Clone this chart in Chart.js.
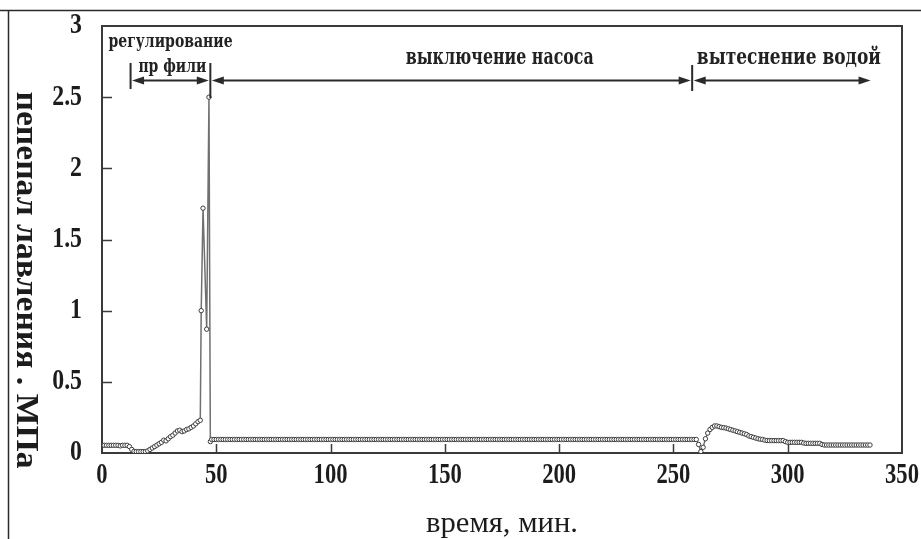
<!DOCTYPE html>
<html>
<head>
<meta charset="utf-8">
<title>перепад давления</title>
<script src="https://cdn.jsdelivr.net/npm/chart.js@4.4.1/dist/chart.umd.min.js"></script>
<style>
  html, body { margin: 0; padding: 0; background: #fff; }
  #wrap { position: relative; width: 921px; height: 539px; }
</style>
</head>
<body>
<div id="wrap"><canvas id="dpChart" width="921" height="539"></canvas></div>
<script>
// time, min
const minutes = [
  0, 1, 2, 3, 4, 5, 6, 7, 8, 9, 10, 11, 12, 13, 14, 15, 16, 17, 18, 19,
  20, 21, 22, 23, 24, 25, 26, 27, 28, 29, 30, 31, 32, 33, 34, 35, 36, 37, 38, 39,
  40, 41, 42, 43, 43.4, 44.2, 45.8, 46.8, 47.4,
  48, 49, 50, 51, 52, 53, 54, 55, 56, 57, 58, 59, 60, 61, 62, 63, 64, 65, 66, 67,
  68, 69, 70, 71, 72, 73, 74, 75, 76, 77, 78, 79, 80, 81, 82, 83, 84, 85, 86, 87,
  88, 89, 90, 91, 92, 93, 94, 95, 96, 97, 98, 99, 100, 101, 102, 103, 104, 105, 106, 107,
  108, 109, 110, 111, 112, 113, 114, 115, 116, 117, 118, 119, 120, 121, 122, 123, 124, 125, 126, 127,
  128, 129, 130, 131, 132, 133, 134, 135, 136, 137, 138, 139, 140, 141, 142, 143, 144, 145, 146, 147,
  148, 149, 150, 151, 152, 153, 154, 155, 156, 157, 158, 159, 160, 161, 162, 163, 164, 165, 166, 167,
  168, 169, 170, 171, 172, 173, 174, 175, 176, 177, 178, 179, 180, 181, 182, 183, 184, 185, 186, 187,
  188, 189, 190, 191, 192, 193, 194, 195, 196, 197, 198, 199, 200, 201, 202, 203, 204, 205, 206, 207,
  208, 209, 210, 211, 212, 213, 214, 215, 216, 217, 218, 219, 220, 221, 222, 223, 224, 225, 226, 227,
  228, 229, 230, 231, 232, 233, 234, 235, 236, 237, 238, 239, 240, 241, 242, 243, 244, 245, 246, 247,
  248, 249, 250, 251, 252, 253, 254, 255, 256, 257, 258, 259, 260,
  261, 262, 263, 264, 265, 266, 267, 268, 269, 270, 271, 272, 273, 274, 275, 276, 277, 278, 279, 280,
  281, 282, 283, 284, 285, 286, 287, 288, 289, 290, 291, 292, 293, 294, 295, 296, 297, 298, 299, 300,
  301, 302, 303, 304, 305, 306, 307, 308, 309, 310, 311, 312, 313, 314, 315, 316, 317, 318, 319, 320,
  321, 322, 323, 324, 325, 326, 327, 328, 329, 330, 331, 332, 333, 334, 335, 336
];

// pressure drop, MPa
const dropMPa = [
  0.054, 0.054, 0.054, 0.054, 0.054, 0.054, 0.054, 0.054, 0.05, 0.054, 0.054, 0.054, 0.045, 0.025, 0.012, 0.01, 0.01, 0.01, 0.01, 0.01,
  0.015, 0.025, 0.035, 0.045, 0.055, 0.065, 0.075, 0.09, 0.085, 0.1, 0.115, 0.125, 0.14, 0.155, 0.16, 0.15, 0.155, 0.165, 0.17, 0.18,
  0.19, 0.205, 0.22, 0.23, 1.0, 1.72, 0.87, 2.5, 0.08,
  0.095, 0.095, 0.095, 0.095, 0.095, 0.095, 0.095, 0.095, 0.095, 0.095, 0.095, 0.095, 0.095, 0.095, 0.095, 0.095, 0.095, 0.095, 0.095, 0.095,
  0.095, 0.095, 0.095, 0.095, 0.095, 0.095, 0.095, 0.095, 0.095, 0.095, 0.095, 0.095, 0.095, 0.095, 0.095, 0.095, 0.095, 0.095, 0.095, 0.095,
  0.095, 0.095, 0.095, 0.095, 0.095, 0.095, 0.095, 0.095, 0.095, 0.095, 0.095, 0.095, 0.095, 0.095, 0.095, 0.095, 0.095, 0.095, 0.095, 0.095,
  0.095, 0.095, 0.095, 0.095, 0.095, 0.095, 0.095, 0.095, 0.095, 0.095, 0.095, 0.095, 0.095, 0.095, 0.095, 0.095, 0.095, 0.095, 0.095, 0.095,
  0.095, 0.095, 0.095, 0.095, 0.095, 0.095, 0.095, 0.095, 0.095, 0.095, 0.095, 0.095, 0.095, 0.095, 0.095, 0.095, 0.095, 0.095, 0.095, 0.095,
  0.095, 0.095, 0.095, 0.095, 0.095, 0.095, 0.095, 0.095, 0.095, 0.095, 0.095, 0.095, 0.095, 0.095, 0.095, 0.095, 0.095, 0.095, 0.095, 0.095,
  0.095, 0.095, 0.095, 0.095, 0.095, 0.095, 0.095, 0.095, 0.095, 0.095, 0.095, 0.095, 0.095, 0.095, 0.095, 0.095, 0.095, 0.095, 0.095, 0.095,
  0.095, 0.095, 0.095, 0.095, 0.095, 0.095, 0.095, 0.095, 0.095, 0.095, 0.095, 0.095, 0.095, 0.095, 0.095, 0.095, 0.095, 0.095, 0.095, 0.095,
  0.095, 0.095, 0.095, 0.095, 0.095, 0.095, 0.095, 0.095, 0.095, 0.095, 0.095, 0.095, 0.095, 0.095, 0.095, 0.095, 0.095, 0.095, 0.095, 0.095,
  0.095, 0.095, 0.095, 0.095, 0.095, 0.095, 0.095, 0.095, 0.095, 0.095, 0.095, 0.095, 0.095, 0.095, 0.095, 0.095, 0.095, 0.095, 0.095, 0.095,
  0.095, 0.095, 0.095, 0.095, 0.095, 0.095, 0.095, 0.095, 0.095, 0.095, 0.095, 0.095, 0.095,
  0.06, 0.01, 0.04, 0.1, 0.14, 0.165, 0.18, 0.19, 0.19, 0.185, 0.18, 0.178, 0.175, 0.17, 0.165, 0.16, 0.155, 0.15, 0.145, 0.14,
  0.135, 0.13, 0.12, 0.115, 0.11, 0.105, 0.1, 0.097, 0.095, 0.09, 0.088, 0.087, 0.087, 0.087, 0.087, 0.087, 0.087, 0.087, 0.08, 0.075,
  0.075, 0.075, 0.075, 0.075, 0.075, 0.075, 0.07, 0.068, 0.068, 0.068, 0.068, 0.068, 0.068, 0.068, 0.06, 0.056, 0.056, 0.056, 0.056, 0.056,
  0.056, 0.056, 0.056, 0.056, 0.056, 0.056, 0.056, 0.056, 0.056, 0.056, 0.056, 0.056, 0.056, 0.056, 0.056, 0.056
];

const xTicks = [0, 50, 100, 150, 200, 250, 300, 350];
const yTicks = [0, 0.5, 1, 1.5, 2, 2.5, 3];
const yTickLabels = ['0', '0.5', '1', '1.5', '2', '2.5', '3'];

// stages of the test, minutes at the borders
const stageEdges = [12.5, 47.4, 258.2, 336.9];
const stageNames = [['регулирование', 'пр фили'], ['выключение насоса'], ['вытеснение водой']];

const xTitle = 'время, мин.';
const yTitle = 'пепепал лавления . МПа';

// draw text squeezed/stretched to a given width
function fitText(ctx, text, cx, base, width, font) {
  ctx.save();
  ctx.font = font;
  const w = ctx.measureText(text).width;
  ctx.translate(cx, base);
  ctx.scale(width / w, 1);
  ctx.textAlign = 'center';
  ctx.textBaseline = 'alphabetic';
  ctx.fillText(text, 0, 0);
  ctx.restore();
}

// narrow tick label, sx < 1 squeezes it horizontally
function narrowText(ctx, text, x, y, sx, align) {
  ctx.save();
  ctx.translate(x, y);
  ctx.scale(sx, 1);
  ctx.textAlign = align;
  ctx.textBaseline = 'middle';
  ctx.fillText(text, 0, 0);
  ctx.restore();
}

function head(ctx, tip, y, dir) {
  ctx.beginPath();
  ctx.moveTo(tip, y);
  ctx.lineTo(tip - dir * 12, y - 4);
  ctx.lineTo(tip - dir * 12, y + 4);
  ctx.closePath();
  ctx.fill();
}

const frame = {
  id: 'frame',
  beforeDatasetsDraw(chart) {
    const { ctx, chartArea: a, scales: { x, y } } = chart;
    ctx.save();
    // outer frame of the figure
    ctx.strokeStyle = '#2a2a2a';
    ctx.lineWidth = 1.5;
    ctx.beginPath();
    ctx.moveTo(0, 10.5); ctx.lineTo(921, 10.5);
    ctx.moveTo(8.5, 10.5); ctx.lineTo(8.5, 539);
    ctx.stroke();

    // plot box
    ctx.strokeStyle = '#3a3a3a';
    ctx.lineWidth = 2;
    ctx.strokeRect(a.left, a.top, a.right - a.left, a.bottom - a.top);

    // short inner ticks
    ctx.lineWidth = 1.5;
    ctx.beginPath();
    xTicks.slice(1, -1).forEach(v => {
      const px = Math.round(x.getPixelForValue(v)) + 0.5;
      ctx.moveTo(px, a.bottom); ctx.lineTo(px, a.bottom - 9);
    });
    yTicks.slice(1, -1).forEach(v => {
      const py = Math.round(y.getPixelForValue(v)) + 0.5;
      ctx.moveTo(a.left, py); ctx.lineTo(a.left + 10, py);
    });
    ctx.stroke();
    ctx.restore();
  },
  afterDraw(chart) {
    const { ctx, chartArea: a, scales: { x, y } } = chart;
    ctx.save();
    ctx.fillStyle = '#1c1c1c';

    // tick labels
    ctx.font = 'bold 29px "Liberation Serif"';
    xTicks.forEach(v => narrowText(ctx, String(v), x.getPixelForValue(v), 476, 0.78, 'center'));
    yTicks.forEach((v, i) => narrowText(ctx, yTickLabels[i], 82, y.getPixelForValue(v), 0.82, 'right'));

    // axis titles
    fitText(ctx, xTitle, (a.left + a.right) / 2, 532, 152, '29px "Liberation Serif"');
    ctx.save();
    ctx.translate(17, 280);
    ctx.rotate(Math.PI / 2);
    fitText(ctx, yTitle, 0, 0, 377, 'bold 32px "Liberation Serif"');
    ctx.restore();

    // stage arrows
    const arrowY = 80.5;
    const px = stageEdges.map(v => x.getPixelForValue(v));
    ctx.strokeStyle = '#2a2a2a';
    ctx.fillStyle = '#2a2a2a';
    ctx.lineWidth = 2;
    const barTop = [63, 63, 65];
    const barBottom = [89, 98, 91];
    for (let i = 0; i < 3; i++) {
      ctx.beginPath();
      ctx.moveTo(px[i], barTop[i]); ctx.lineTo(px[i], barBottom[i]);
      ctx.stroke();
    }
    for (let i = 0; i < 3; i++) {
      const l = px[i] + 1.5, r = px[i + 1] - 1.5;
      ctx.beginPath();
      ctx.moveTo(l + 6, arrowY); ctx.lineTo(r - 6, arrowY);
      ctx.stroke();
      head(ctx, l, arrowY, -1);
      head(ctx, r, arrowY, 1);
    }

    // stage captions
    ctx.fillStyle = '#222';
    fitText(ctx, stageNames[0][0], x.getPixelForValue(30), 47, 124, 'bold 18px "DejaVu Serif"');
    fitText(ctx, stageNames[0][1], x.getPixelForValue(30.8), 72, 68, 'bold 18px "DejaVu Serif"');
    fitText(ctx, stageNames[1][0], x.getPixelForValue(174), 64, 188, 'bold 22px "DejaVu Serif"');
    fitText(ctx, stageNames[2][0], x.getPixelForValue(300.5), 64, 184, 'bold 23px "DejaVu Serif"');
    ctx.restore();
  }
};

new Chart(document.getElementById('dpChart'), {
  type: 'line',
  data: {
    datasets: [{
      data: minutes.map((t, i) => ({ x: t, y: dropMPa[i] })),
      borderColor: '#707070',
      borderWidth: 1.5,
      pointRadius: 2.2,
      pointBackgroundColor: '#fff',
      pointBorderColor: '#3c3c3c',
      pointBorderWidth: 1,
      tension: 0
    }]
  },
  options: {
    responsive: false,
    animation: false,
    devicePixelRatio: 1,
    layout: { padding: { left: 102, top: 26, right: 19, bottom: 86 } },
    plugins: { legend: { display: false }, tooltip: { enabled: false } },
    scales: {
      x: { type: 'linear', min: 0, max: 350, display: false },
      y: { type: 'linear', min: 0, max: 3, display: false }
    }
  },
  plugins: [frame]
});
</script>
</body>
</html>
